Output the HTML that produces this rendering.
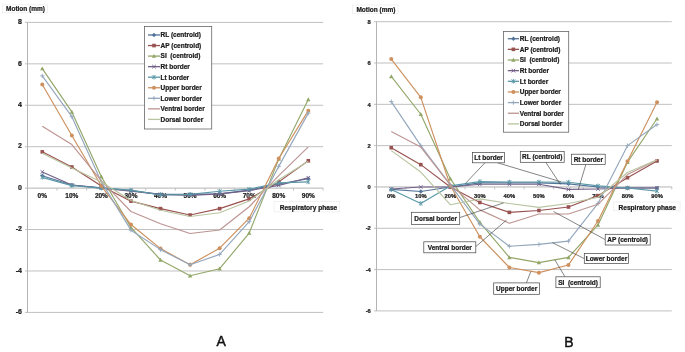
<!DOCTYPE html>
<html><head><meta charset="utf-8"><title>Motion charts</title>
<style>html,body{margin:0;padding:0;background:#fff;width:685px;height:352px;overflow:hidden}svg{display:block;will-change:transform;filter:blur(0.3px)}</style>
</head><body>
<svg width="685" height="352" viewBox="0 0 685 352" font-family='"Liberation Sans", sans-serif'>
<rect width="685" height="352" fill="#fff"/>
<rect x="2.5" y="4.8" width="45" height="8" fill="#fff" stroke="#ececec" stroke-width="0.7"/>
<text x="6" y="11.3" font-size="6.5" font-weight="bold" text-anchor="start" fill="#1a1a1a" stroke="#1a1a1a" stroke-width="0.22">Motion (mm)</text>
<line x1="25" y1="22.4" x2="323.1" y2="22.4" stroke="#c0c0c0" stroke-width="1"/>
<line x1="25" y1="63.83" x2="323.1" y2="63.83" stroke="#c0c0c0" stroke-width="1"/>
<line x1="25" y1="105.26" x2="323.1" y2="105.26" stroke="#c0c0c0" stroke-width="1"/>
<line x1="25" y1="146.69" x2="323.1" y2="146.69" stroke="#c0c0c0" stroke-width="1"/>
<line x1="25" y1="229.54" x2="323.1" y2="229.54" stroke="#c0c0c0" stroke-width="1"/>
<line x1="25" y1="270.97" x2="323.1" y2="270.97" stroke="#c0c0c0" stroke-width="1"/>
<line x1="25" y1="312.4" x2="323.1" y2="312.4" stroke="#c0c0c0" stroke-width="1"/>
<line x1="27.5" y1="22.4" x2="27.5" y2="312.4" stroke="#b4b4b4" stroke-width="1"/>
<line x1="25" y1="188.11" x2="323.1" y2="188.11" stroke="#b4b4b4" stroke-width="1"/>
<line x1="27.5" y1="188.11" x2="27.5" y2="190.61" stroke="#b4b4b4" stroke-width="0.8"/>
<line x1="57.06" y1="188.11" x2="57.06" y2="190.61" stroke="#b4b4b4" stroke-width="0.8"/>
<line x1="86.62" y1="188.11" x2="86.62" y2="190.61" stroke="#b4b4b4" stroke-width="0.8"/>
<line x1="116.18" y1="188.11" x2="116.18" y2="190.61" stroke="#b4b4b4" stroke-width="0.8"/>
<line x1="145.74" y1="188.11" x2="145.74" y2="190.61" stroke="#b4b4b4" stroke-width="0.8"/>
<line x1="175.3" y1="188.11" x2="175.3" y2="190.61" stroke="#b4b4b4" stroke-width="0.8"/>
<line x1="204.86" y1="188.11" x2="204.86" y2="190.61" stroke="#b4b4b4" stroke-width="0.8"/>
<line x1="234.42" y1="188.11" x2="234.42" y2="190.61" stroke="#b4b4b4" stroke-width="0.8"/>
<line x1="263.98" y1="188.11" x2="263.98" y2="190.61" stroke="#b4b4b4" stroke-width="0.8"/>
<line x1="293.54" y1="188.11" x2="293.54" y2="190.61" stroke="#b4b4b4" stroke-width="0.8"/>
<line x1="323.1" y1="188.11" x2="323.1" y2="190.61" stroke="#b4b4b4" stroke-width="0.8"/>
<text x="22" y="24.1" font-size="7" font-weight="bold" text-anchor="end" fill="#1a1a1a" stroke="#1a1a1a" stroke-width="0.22">8</text>
<text x="22" y="65.53" font-size="7" font-weight="bold" text-anchor="end" fill="#1a1a1a" stroke="#1a1a1a" stroke-width="0.22">6</text>
<text x="22" y="106.96" font-size="7" font-weight="bold" text-anchor="end" fill="#1a1a1a" stroke="#1a1a1a" stroke-width="0.22">4</text>
<text x="22" y="148.39" font-size="7" font-weight="bold" text-anchor="end" fill="#1a1a1a" stroke="#1a1a1a" stroke-width="0.22">2</text>
<text x="22" y="189.81" font-size="7" font-weight="bold" text-anchor="end" fill="#1a1a1a" stroke="#1a1a1a" stroke-width="0.22">0</text>
<text x="22" y="231.24" font-size="7" font-weight="bold" text-anchor="end" fill="#1a1a1a" stroke="#1a1a1a" stroke-width="0.22">-2</text>
<text x="22" y="272.67" font-size="7" font-weight="bold" text-anchor="end" fill="#1a1a1a" stroke="#1a1a1a" stroke-width="0.22">-4</text>
<text x="22" y="314.1" font-size="7" font-weight="bold" text-anchor="end" fill="#1a1a1a" stroke="#1a1a1a" stroke-width="0.22">-6</text>
<text x="42.28" y="198.11" font-size="6.5" font-weight="bold" text-anchor="middle" fill="#1a1a1a" stroke="#1a1a1a" stroke-width="0.22">0%</text>
<text x="71.84" y="198.11" font-size="6.5" font-weight="bold" text-anchor="middle" fill="#1a1a1a" stroke="#1a1a1a" stroke-width="0.22">10%</text>
<text x="101.4" y="198.11" font-size="6.5" font-weight="bold" text-anchor="middle" fill="#1a1a1a" stroke="#1a1a1a" stroke-width="0.22">20%</text>
<text x="130.96" y="198.11" font-size="6.5" font-weight="bold" text-anchor="middle" fill="#1a1a1a" stroke="#1a1a1a" stroke-width="0.22">30%</text>
<text x="160.52" y="198.11" font-size="6.5" font-weight="bold" text-anchor="middle" fill="#1a1a1a" stroke="#1a1a1a" stroke-width="0.22">40%</text>
<text x="190.08" y="198.11" font-size="6.5" font-weight="bold" text-anchor="middle" fill="#1a1a1a" stroke="#1a1a1a" stroke-width="0.22">50%</text>
<text x="219.64" y="198.11" font-size="6.5" font-weight="bold" text-anchor="middle" fill="#1a1a1a" stroke="#1a1a1a" stroke-width="0.22">60%</text>
<text x="249.2" y="198.11" font-size="6.5" font-weight="bold" text-anchor="middle" fill="#1a1a1a" stroke="#1a1a1a" stroke-width="0.22">70%</text>
<text x="278.76" y="198.11" font-size="6.5" font-weight="bold" text-anchor="middle" fill="#1a1a1a" stroke="#1a1a1a" stroke-width="0.22">80%</text>
<text x="308.32" y="198.11" font-size="6.5" font-weight="bold" text-anchor="middle" fill="#1a1a1a" stroke="#1a1a1a" stroke-width="0.22">90%</text>
<rect x="274.1" y="201.6" width="65.4" height="10.3" fill="#fff" stroke="#ececec" stroke-width="0.7"/>
<text x="279.7" y="210.1" font-size="6.6" font-weight="bold" text-anchor="start" fill="#1a1a1a" stroke="#1a1a1a" stroke-width="0.22">Respiratory phase</text>
<polyline points="42.28,175.69 71.84,185.01 101.4,187.7 130.96,190.6 160.52,194.33 190.08,194.33 219.64,193.91 249.2,190.19 278.76,183.97 308.32,178.79" fill="none" stroke="#547499" stroke-width="1.15" stroke-linejoin="round"/>
<path d="M42.28 173.49L44.48 175.69L42.28 177.89L40.08 175.69Z" fill="#547499"/>
<path d="M71.84 182.81L74.04 185.01L71.84 187.21L69.64 185.01Z" fill="#547499"/>
<path d="M101.4 185.5L103.6 187.7L101.4 189.9L99.2 187.7Z" fill="#547499"/>
<path d="M130.96 188.4L133.16 190.6L130.96 192.8L128.76 190.6Z" fill="#547499"/>
<path d="M160.52 192.13L162.72 194.33L160.52 196.53L158.32 194.33Z" fill="#547499"/>
<path d="M190.08 192.13L192.28 194.33L190.08 196.53L187.88 194.33Z" fill="#547499"/>
<path d="M219.64 191.71L221.84 193.91L219.64 196.11L217.44 193.91Z" fill="#547499"/>
<path d="M249.2 187.99L251.4 190.19L249.2 192.39L247 190.19Z" fill="#547499"/>
<path d="M278.76 181.77L280.96 183.97L278.76 186.17L276.56 183.97Z" fill="#547499"/>
<path d="M308.32 176.59L310.52 178.79L308.32 180.99L306.12 178.79Z" fill="#547499"/>
<polyline points="42.28,151.86 71.84,166.99 101.4,186.04 130.96,201.16 160.52,208.62 190.08,215.04 219.64,208.62 249.2,198.89 278.76,181.9 308.32,160.77" fill="none" stroke="#985250" stroke-width="1.15" stroke-linejoin="round"/>
<rect x="40.48" y="150.06" width="3.6" height="3.6" fill="#985250"/>
<rect x="70.04" y="165.19" width="3.6" height="3.6" fill="#985250"/>
<rect x="99.6" y="184.24" width="3.6" height="3.6" fill="#985250"/>
<rect x="129.16" y="199.36" width="3.6" height="3.6" fill="#985250"/>
<rect x="158.72" y="206.82" width="3.6" height="3.6" fill="#985250"/>
<rect x="188.28" y="213.24" width="3.6" height="3.6" fill="#985250"/>
<rect x="217.84" y="206.82" width="3.6" height="3.6" fill="#985250"/>
<rect x="247.4" y="197.09" width="3.6" height="3.6" fill="#985250"/>
<rect x="276.96" y="180.1" width="3.6" height="3.6" fill="#985250"/>
<rect x="306.52" y="158.97" width="3.6" height="3.6" fill="#985250"/>
<polyline points="42.28,68.59 71.84,111.89 101.4,176.72 130.96,227.47 160.52,259.99 190.08,275.74 219.64,268.69 249.2,233.06 278.76,159.11 308.32,99.46" fill="none" stroke="#93a769" stroke-width="1.15" stroke-linejoin="round"/>
<path d="M42.28 66.39L44.48 70.35L40.08 70.35Z" fill="#93a769"/>
<path d="M71.84 109.69L74.04 113.65L69.64 113.65Z" fill="#93a769"/>
<path d="M101.4 174.52L103.6 178.48L99.2 178.48Z" fill="#93a769"/>
<path d="M130.96 225.27L133.16 229.23L128.76 229.23Z" fill="#93a769"/>
<path d="M160.52 257.79L162.72 261.75L158.32 261.75Z" fill="#93a769"/>
<path d="M190.08 273.54L192.28 277.5L187.88 277.5Z" fill="#93a769"/>
<path d="M219.64 266.49L221.84 270.45L217.44 270.45Z" fill="#93a769"/>
<path d="M249.2 230.86L251.4 234.82L247 234.82Z" fill="#93a769"/>
<path d="M278.76 156.91L280.96 160.87L276.56 160.87Z" fill="#93a769"/>
<path d="M308.32 97.26L310.52 101.22L306.12 101.22Z" fill="#93a769"/>
<polyline points="42.28,171.96 71.84,185.01 101.4,188.11 130.96,191.22 160.52,194.33 190.08,195.36 219.64,193.91 249.2,190.6 278.76,185.42 308.32,177.76" fill="none" stroke="#715f87" stroke-width="1.15" stroke-linejoin="round"/>
<path d="M40.48 170.16L44.08 173.76M44.08 170.16L40.48 173.76" stroke="#715f87" stroke-width="0.9" fill="none"/>
<path d="M70.04 183.21L73.64 186.81M73.64 183.21L70.04 186.81" stroke="#715f87" stroke-width="0.9" fill="none"/>
<path d="M99.6 186.31L103.2 189.91M103.2 186.31L99.6 189.91" stroke="#715f87" stroke-width="0.9" fill="none"/>
<path d="M129.16 189.42L132.76 193.02M132.76 189.42L129.16 193.02" stroke="#715f87" stroke-width="0.9" fill="none"/>
<path d="M158.72 192.53L162.32 196.13M162.32 192.53L158.72 196.13" stroke="#715f87" stroke-width="0.9" fill="none"/>
<path d="M188.28 193.56L191.88 197.16M191.88 193.56L188.28 197.16" stroke="#715f87" stroke-width="0.9" fill="none"/>
<path d="M217.84 192.11L221.44 195.71M221.44 192.11L217.84 195.71" stroke="#715f87" stroke-width="0.9" fill="none"/>
<path d="M247.4 188.8L251 192.4M251 188.8L247.4 192.4" stroke="#715f87" stroke-width="0.9" fill="none"/>
<path d="M276.96 183.62L280.56 187.22M280.56 183.62L276.96 187.22" stroke="#715f87" stroke-width="0.9" fill="none"/>
<path d="M306.52 175.96L310.12 179.56M310.12 175.96L306.52 179.56" stroke="#715f87" stroke-width="0.9" fill="none"/>
<polyline points="42.28,177.34 71.84,185.63 101.4,188.11 130.96,190.19 160.52,194.95 190.08,194.33 219.64,191.22 249.2,189.15 278.76,182.94 308.32,181.9" fill="none" stroke="#5a97a7" stroke-width="1.15" stroke-linejoin="round"/>
<path d="M40.38 175.44L44.18 179.24M44.18 175.44L40.38 179.24M42.28 175.04L42.28 179.64" stroke="#5a97a7" stroke-width="0.9" fill="none"/>
<path d="M69.94 183.73L73.74 187.53M73.74 183.73L69.94 187.53M71.84 183.33L71.84 187.93" stroke="#5a97a7" stroke-width="0.9" fill="none"/>
<path d="M99.5 186.21L103.3 190.01M103.3 186.21L99.5 190.01M101.4 185.81L101.4 190.41" stroke="#5a97a7" stroke-width="0.9" fill="none"/>
<path d="M129.06 188.29L132.86 192.09M132.86 188.29L129.06 192.09M130.96 187.89L130.96 192.49" stroke="#5a97a7" stroke-width="0.9" fill="none"/>
<path d="M158.62 193.05L162.42 196.85M162.42 193.05L158.62 196.85M160.52 192.65L160.52 197.25" stroke="#5a97a7" stroke-width="0.9" fill="none"/>
<path d="M188.18 192.43L191.98 196.23M191.98 192.43L188.18 196.23M190.08 192.03L190.08 196.63" stroke="#5a97a7" stroke-width="0.9" fill="none"/>
<path d="M217.74 189.32L221.54 193.12M221.54 189.32L217.74 193.12M219.64 188.92L219.64 193.52" stroke="#5a97a7" stroke-width="0.9" fill="none"/>
<path d="M247.3 187.25L251.1 191.05M251.1 187.25L247.3 191.05M249.2 186.85L249.2 191.45" stroke="#5a97a7" stroke-width="0.9" fill="none"/>
<path d="M276.86 181.04L280.66 184.84M280.66 181.04L276.86 184.84M278.76 180.64L278.76 185.24" stroke="#5a97a7" stroke-width="0.9" fill="none"/>
<path d="M306.42 180L310.22 183.8M310.22 180L306.42 183.8M308.32 179.6L308.32 184.2" stroke="#5a97a7" stroke-width="0.9" fill="none"/>
<polyline points="42.28,84.54 71.84,135.5 101.4,186.04 130.96,224.57 160.52,248.6 190.08,264.76 219.64,248.19 249.2,218.15 278.76,158.49 308.32,110.64" fill="none" stroke="#cd905e" stroke-width="1.15" stroke-linejoin="round"/>
<circle cx="42.28" cy="84.54" r="2" fill="#cd905e"/>
<circle cx="71.84" cy="135.5" r="2" fill="#cd905e"/>
<circle cx="101.4" cy="186.04" r="2" fill="#cd905e"/>
<circle cx="130.96" cy="224.57" r="2" fill="#cd905e"/>
<circle cx="160.52" cy="248.6" r="2" fill="#cd905e"/>
<circle cx="190.08" cy="264.76" r="2" fill="#cd905e"/>
<circle cx="219.64" cy="248.19" r="2" fill="#cd905e"/>
<circle cx="249.2" cy="218.15" r="2" fill="#cd905e"/>
<circle cx="278.76" cy="158.49" r="2" fill="#cd905e"/>
<circle cx="308.32" cy="110.64" r="2" fill="#cd905e"/>
<polyline points="42.28,75.84 71.84,116.65 101.4,181.9 130.96,230.16 160.52,249.64 190.08,264.76 219.64,254.4 249.2,221.67 278.76,166.36 308.32,113.13" fill="none" stroke="#94a7bd" stroke-width="1.15" stroke-linejoin="round"/>
<path d="M40.08 75.84L44.48 75.84M42.28 73.64L42.28 78.04" stroke="#94a7bd" stroke-width="0.9" fill="none"/>
<path d="M69.64 116.65L74.04 116.65M71.84 114.45L71.84 118.85" stroke="#94a7bd" stroke-width="0.9" fill="none"/>
<path d="M99.2 181.9L103.6 181.9M101.4 179.7L101.4 184.1" stroke="#94a7bd" stroke-width="0.9" fill="none"/>
<path d="M128.76 230.16L133.16 230.16M130.96 227.96L130.96 232.36" stroke="#94a7bd" stroke-width="0.9" fill="none"/>
<path d="M158.32 249.64L162.72 249.64M160.52 247.44L160.52 251.84" stroke="#94a7bd" stroke-width="0.9" fill="none"/>
<path d="M187.88 264.76L192.28 264.76M190.08 262.56L190.08 266.96" stroke="#94a7bd" stroke-width="0.9" fill="none"/>
<path d="M217.44 254.4L221.84 254.4M219.64 252.2L219.64 256.6" stroke="#94a7bd" stroke-width="0.9" fill="none"/>
<path d="M247 221.67L251.4 221.67M249.2 219.47L249.2 223.87" stroke="#94a7bd" stroke-width="0.9" fill="none"/>
<path d="M276.56 166.36L280.96 166.36M278.76 164.16L278.76 168.56" stroke="#94a7bd" stroke-width="0.9" fill="none"/>
<path d="M306.12 113.13L310.52 113.13M308.32 110.93L308.32 115.33" stroke="#94a7bd" stroke-width="0.9" fill="none"/>
<polyline points="42.28,126.18 71.84,144.61 101.4,180.86 130.96,211.52 160.52,223.74 190.08,233.48 219.64,229.96 249.2,206.76 278.76,175.69 308.32,146.89" fill="none" stroke="#bc9492" stroke-width="1.15" stroke-linejoin="round"/>
<polyline points="42.28,153.31 71.84,168.02 101.4,181.9 130.96,200.54 160.52,210.28 190.08,216.49 219.64,212.76 249.2,200.96 278.76,179.83 308.32,161.19" fill="none" stroke="#b9c5a1" stroke-width="1.15" stroke-linejoin="round"/>
<rect x="144.5" y="26.5" width="67.2" height="102.5" fill="#fff" stroke="#666" stroke-width="0.8"/>
<line x1="148" y1="35" x2="160" y2="35" stroke="#547499" stroke-width="1.3"/>
<path d="M154 32.8L156.2 35L154 37.2L151.8 35Z" fill="#547499"/>
<text x="160.6" y="37.3" font-size="6.5" font-weight="bold" text-anchor="start" fill="#1a1a1a" stroke="#1a1a1a" stroke-width="0.22">RL (centroid)</text>
<line x1="148" y1="45.55" x2="160" y2="45.55" stroke="#985250" stroke-width="1.3"/>
<rect x="152.2" y="43.75" width="3.6" height="3.6" fill="#985250"/>
<text x="160.6" y="47.85" font-size="6.5" font-weight="bold" text-anchor="start" fill="#1a1a1a" stroke="#1a1a1a" stroke-width="0.22">AP (centroid)</text>
<line x1="148" y1="56.1" x2="160" y2="56.1" stroke="#93a769" stroke-width="1.3"/>
<path d="M154 53.9L156.2 57.86L151.8 57.86Z" fill="#93a769"/>
<text x="160.6" y="58.4" font-size="6.5" font-weight="bold" text-anchor="start" fill="#1a1a1a" stroke="#1a1a1a" stroke-width="0.22">SI  (centroid)</text>
<line x1="148" y1="66.65" x2="160" y2="66.65" stroke="#715f87" stroke-width="1.3"/>
<path d="M152.2 64.85L155.8 68.45M155.8 64.85L152.2 68.45" stroke="#715f87" stroke-width="0.9" fill="none"/>
<text x="160.6" y="68.95" font-size="6.5" font-weight="bold" text-anchor="start" fill="#1a1a1a" stroke="#1a1a1a" stroke-width="0.22">Rt border</text>
<line x1="148" y1="77.2" x2="160" y2="77.2" stroke="#5a97a7" stroke-width="1.3"/>
<path d="M152.1 75.3L155.9 79.1M155.9 75.3L152.1 79.1M154 74.9L154 79.5" stroke="#5a97a7" stroke-width="0.9" fill="none"/>
<text x="160.6" y="79.5" font-size="6.5" font-weight="bold" text-anchor="start" fill="#1a1a1a" stroke="#1a1a1a" stroke-width="0.22">Lt border</text>
<line x1="148" y1="87.75" x2="160" y2="87.75" stroke="#cd905e" stroke-width="1.3"/>
<circle cx="154" cy="87.75" r="2" fill="#cd905e"/>
<text x="160.6" y="90.05" font-size="6.5" font-weight="bold" text-anchor="start" fill="#1a1a1a" stroke="#1a1a1a" stroke-width="0.22">Upper border</text>
<line x1="148" y1="98.3" x2="160" y2="98.3" stroke="#94a7bd" stroke-width="1.3"/>
<path d="M151.8 98.3L156.2 98.3M154 96.1L154 100.5" stroke="#94a7bd" stroke-width="0.9" fill="none"/>
<text x="160.6" y="100.6" font-size="6.5" font-weight="bold" text-anchor="start" fill="#1a1a1a" stroke="#1a1a1a" stroke-width="0.22">Lower border</text>
<line x1="148" y1="108.85" x2="160" y2="108.85" stroke="#bc9492" stroke-width="1.3"/>
<text x="160.6" y="111.15" font-size="6.5" font-weight="bold" text-anchor="start" fill="#1a1a1a" stroke="#1a1a1a" stroke-width="0.22">Ventral border</text>
<line x1="148" y1="119.4" x2="160" y2="119.4" stroke="#b9c5a1" stroke-width="1.3"/>
<text x="160.6" y="121.7" font-size="6.5" font-weight="bold" text-anchor="start" fill="#1a1a1a" stroke="#1a1a1a" stroke-width="0.22">Dorsal border</text>
<text x="216.6" y="346.2" font-size="14" font-weight="normal" text-anchor="start" fill="#111" stroke="#111" stroke-width="0.45">A</text>
<rect x="352.5" y="5" width="45.5" height="8.6" fill="#fff" stroke="#ececec" stroke-width="0.7"/>
<text x="356.4" y="11.8" font-size="6.5" font-weight="bold" text-anchor="start" fill="#1a1a1a" stroke="#1a1a1a" stroke-width="0.22">Motion (mm)</text>
<line x1="374" y1="21.7" x2="671.8" y2="21.7" stroke="#c0c0c0" stroke-width="1"/>
<line x1="374" y1="63.01" x2="671.8" y2="63.01" stroke="#c0c0c0" stroke-width="1"/>
<line x1="374" y1="104.33" x2="671.8" y2="104.33" stroke="#c0c0c0" stroke-width="1"/>
<line x1="374" y1="145.64" x2="671.8" y2="145.64" stroke="#c0c0c0" stroke-width="1"/>
<line x1="374" y1="228.27" x2="671.8" y2="228.27" stroke="#c0c0c0" stroke-width="1"/>
<line x1="374" y1="269.59" x2="671.8" y2="269.59" stroke="#c0c0c0" stroke-width="1"/>
<line x1="374" y1="310.9" x2="671.8" y2="310.9" stroke="#c0c0c0" stroke-width="1"/>
<line x1="376.5" y1="21.7" x2="376.5" y2="310.9" stroke="#b4b4b4" stroke-width="1"/>
<line x1="374" y1="186.96" x2="671.8" y2="186.96" stroke="#b4b4b4" stroke-width="1"/>
<line x1="376.5" y1="186.96" x2="376.5" y2="189.46" stroke="#b4b4b4" stroke-width="0.8"/>
<line x1="406.03" y1="186.96" x2="406.03" y2="189.46" stroke="#b4b4b4" stroke-width="0.8"/>
<line x1="435.56" y1="186.96" x2="435.56" y2="189.46" stroke="#b4b4b4" stroke-width="0.8"/>
<line x1="465.09" y1="186.96" x2="465.09" y2="189.46" stroke="#b4b4b4" stroke-width="0.8"/>
<line x1="494.62" y1="186.96" x2="494.62" y2="189.46" stroke="#b4b4b4" stroke-width="0.8"/>
<line x1="524.15" y1="186.96" x2="524.15" y2="189.46" stroke="#b4b4b4" stroke-width="0.8"/>
<line x1="553.68" y1="186.96" x2="553.68" y2="189.46" stroke="#b4b4b4" stroke-width="0.8"/>
<line x1="583.21" y1="186.96" x2="583.21" y2="189.46" stroke="#b4b4b4" stroke-width="0.8"/>
<line x1="612.74" y1="186.96" x2="612.74" y2="189.46" stroke="#b4b4b4" stroke-width="0.8"/>
<line x1="642.27" y1="186.96" x2="642.27" y2="189.46" stroke="#b4b4b4" stroke-width="0.8"/>
<line x1="671.8" y1="186.96" x2="671.8" y2="189.46" stroke="#b4b4b4" stroke-width="0.8"/>
<text x="370.8" y="23.9" font-size="5.8" font-weight="bold" text-anchor="end" fill="#1a1a1a" stroke="#1a1a1a" stroke-width="0.22">8</text>
<text x="370.8" y="65.21" font-size="5.8" font-weight="bold" text-anchor="end" fill="#1a1a1a" stroke="#1a1a1a" stroke-width="0.22">6</text>
<text x="370.8" y="106.53" font-size="5.8" font-weight="bold" text-anchor="end" fill="#1a1a1a" stroke="#1a1a1a" stroke-width="0.22">4</text>
<text x="370.8" y="147.84" font-size="5.8" font-weight="bold" text-anchor="end" fill="#1a1a1a" stroke="#1a1a1a" stroke-width="0.22">2</text>
<text x="370.8" y="189.16" font-size="5.8" font-weight="bold" text-anchor="end" fill="#1a1a1a" stroke="#1a1a1a" stroke-width="0.22">0</text>
<text x="370.8" y="230.47" font-size="5.8" font-weight="bold" text-anchor="end" fill="#1a1a1a" stroke="#1a1a1a" stroke-width="0.22">-2</text>
<text x="370.8" y="271.79" font-size="5.8" font-weight="bold" text-anchor="end" fill="#1a1a1a" stroke="#1a1a1a" stroke-width="0.22">-4</text>
<text x="370.8" y="313.1" font-size="5.8" font-weight="bold" text-anchor="end" fill="#1a1a1a" stroke="#1a1a1a" stroke-width="0.22">-6</text>
<text x="391.26" y="197.86" font-size="5.8" font-weight="bold" text-anchor="middle" fill="#1a1a1a" stroke="#1a1a1a" stroke-width="0.22">0%</text>
<text x="420.79" y="197.86" font-size="5.8" font-weight="bold" text-anchor="middle" fill="#1a1a1a" stroke="#1a1a1a" stroke-width="0.22">10%</text>
<text x="450.32" y="197.86" font-size="5.8" font-weight="bold" text-anchor="middle" fill="#1a1a1a" stroke="#1a1a1a" stroke-width="0.22">20%</text>
<text x="479.85" y="197.86" font-size="5.8" font-weight="bold" text-anchor="middle" fill="#1a1a1a" stroke="#1a1a1a" stroke-width="0.22">30%</text>
<text x="509.38" y="197.86" font-size="5.8" font-weight="bold" text-anchor="middle" fill="#1a1a1a" stroke="#1a1a1a" stroke-width="0.22">40%</text>
<text x="538.91" y="197.86" font-size="5.8" font-weight="bold" text-anchor="middle" fill="#1a1a1a" stroke="#1a1a1a" stroke-width="0.22">50%</text>
<text x="568.44" y="197.86" font-size="5.8" font-weight="bold" text-anchor="middle" fill="#1a1a1a" stroke="#1a1a1a" stroke-width="0.22">60%</text>
<text x="597.97" y="197.86" font-size="5.8" font-weight="bold" text-anchor="middle" fill="#1a1a1a" stroke="#1a1a1a" stroke-width="0.22">70%</text>
<text x="627.5" y="197.86" font-size="5.8" font-weight="bold" text-anchor="middle" fill="#1a1a1a" stroke="#1a1a1a" stroke-width="0.22">80%</text>
<text x="657.03" y="197.86" font-size="5.8" font-weight="bold" text-anchor="middle" fill="#1a1a1a" stroke="#1a1a1a" stroke-width="0.22">90%</text>
<rect x="613.3" y="202" width="66.8" height="8.8" fill="#fff" stroke="#ececec" stroke-width="0.7"/>
<text x="618.5" y="209.7" font-size="6.6" font-weight="bold" text-anchor="start" fill="#1a1a1a" stroke="#1a1a1a" stroke-width="0.22">Respiratory phase</text>
<polyline points="391.26,189.44 420.79,191.5 450.32,186.96 479.85,182.83 509.38,182.83 538.91,182.83 568.44,183.86 597.97,186.96 627.5,187.99 657.03,187.99" fill="none" stroke="#547499" stroke-width="1.15" stroke-linejoin="round"/>
<path d="M391.26 187.24L393.46 189.44L391.26 191.64L389.06 189.44Z" fill="#547499"/>
<path d="M420.79 189.3L422.99 191.5L420.79 193.7L418.59 191.5Z" fill="#547499"/>
<path d="M450.32 184.76L452.52 186.96L450.32 189.16L448.12 186.96Z" fill="#547499"/>
<path d="M479.85 180.63L482.05 182.83L479.85 185.03L477.65 182.83Z" fill="#547499"/>
<path d="M509.38 180.63L511.58 182.83L509.38 185.03L507.19 182.83Z" fill="#547499"/>
<path d="M538.91 180.63L541.12 182.83L538.91 185.03L536.71 182.83Z" fill="#547499"/>
<path d="M568.44 181.66L570.64 183.86L568.44 186.06L566.24 183.86Z" fill="#547499"/>
<path d="M597.97 184.76L600.17 186.96L597.97 189.16L595.77 186.96Z" fill="#547499"/>
<path d="M627.5 185.79L629.7 187.99L627.5 190.19L625.3 187.99Z" fill="#547499"/>
<path d="M657.03 185.79L659.24 187.99L657.03 190.19L654.83 187.99Z" fill="#547499"/>
<polyline points="391.26,147.71 420.79,164.65 450.32,186.96 479.85,202.45 509.38,212.37 538.91,210.51 568.44,206.99 597.97,195.63 627.5,177.66 657.03,160.93" fill="none" stroke="#985250" stroke-width="1.15" stroke-linejoin="round"/>
<rect x="389.46" y="145.91" width="3.6" height="3.6" fill="#985250"/>
<rect x="418.99" y="162.85" width="3.6" height="3.6" fill="#985250"/>
<rect x="448.52" y="185.16" width="3.6" height="3.6" fill="#985250"/>
<rect x="478.05" y="200.65" width="3.6" height="3.6" fill="#985250"/>
<rect x="507.58" y="210.57" width="3.6" height="3.6" fill="#985250"/>
<rect x="537.12" y="208.71" width="3.6" height="3.6" fill="#985250"/>
<rect x="566.64" y="205.19" width="3.6" height="3.6" fill="#985250"/>
<rect x="596.17" y="193.83" width="3.6" height="3.6" fill="#985250"/>
<rect x="625.7" y="175.86" width="3.6" height="3.6" fill="#985250"/>
<rect x="655.24" y="159.13" width="3.6" height="3.6" fill="#985250"/>
<polyline points="391.26,76.44 420.79,114.24 450.32,178.69 479.85,222.28 509.38,257.4 538.91,262.56 568.44,257.4 597.97,224.97 627.5,162.17 657.03,118.79" fill="none" stroke="#93a769" stroke-width="1.15" stroke-linejoin="round"/>
<path d="M391.26 74.24L393.46 78.2L389.06 78.2Z" fill="#93a769"/>
<path d="M420.79 112.04L422.99 116L418.59 116Z" fill="#93a769"/>
<path d="M450.32 176.49L452.52 180.45L448.12 180.45Z" fill="#93a769"/>
<path d="M479.85 220.08L482.05 224.04L477.65 224.04Z" fill="#93a769"/>
<path d="M509.38 255.2L511.58 259.16L507.19 259.16Z" fill="#93a769"/>
<path d="M538.91 260.36L541.12 264.32L536.71 264.32Z" fill="#93a769"/>
<path d="M568.44 255.2L570.64 259.16L566.24 259.16Z" fill="#93a769"/>
<path d="M597.97 222.77L600.17 226.73L595.77 226.73Z" fill="#93a769"/>
<path d="M627.5 159.97L629.7 163.93L625.3 163.93Z" fill="#93a769"/>
<path d="M657.03 116.59L659.24 120.55L654.83 120.55Z" fill="#93a769"/>
<polyline points="391.26,189.02 420.79,186.96 450.32,186.96 479.85,184.27 509.38,184.27 538.91,184.27 568.44,189.44 597.97,189.02 627.5,187.99 657.03,187.99" fill="none" stroke="#715f87" stroke-width="1.15" stroke-linejoin="round"/>
<path d="M389.46 187.22L393.06 190.82M393.06 187.22L389.46 190.82" stroke="#715f87" stroke-width="0.9" fill="none"/>
<path d="M418.99 185.16L422.59 188.76M422.59 185.16L418.99 188.76" stroke="#715f87" stroke-width="0.9" fill="none"/>
<path d="M448.52 185.16L452.12 188.76M452.12 185.16L448.52 188.76" stroke="#715f87" stroke-width="0.9" fill="none"/>
<path d="M478.05 182.47L481.65 186.07M481.65 182.47L478.05 186.07" stroke="#715f87" stroke-width="0.9" fill="none"/>
<path d="M507.58 182.47L511.19 186.07M511.19 182.47L507.58 186.07" stroke="#715f87" stroke-width="0.9" fill="none"/>
<path d="M537.12 182.47L540.71 186.07M540.71 182.47L537.12 186.07" stroke="#715f87" stroke-width="0.9" fill="none"/>
<path d="M566.64 187.64L570.24 191.24M570.24 187.64L566.64 191.24" stroke="#715f87" stroke-width="0.9" fill="none"/>
<path d="M596.17 187.22L599.77 190.82M599.77 187.22L596.17 190.82" stroke="#715f87" stroke-width="0.9" fill="none"/>
<path d="M625.7 186.19L629.3 189.79M629.3 186.19L625.7 189.79" stroke="#715f87" stroke-width="0.9" fill="none"/>
<path d="M655.24 186.19L658.83 189.79M658.83 186.19L655.24 189.79" stroke="#715f87" stroke-width="0.9" fill="none"/>
<polyline points="391.26,189.44 420.79,203.48 450.32,185.92 479.85,181.59 509.38,182 538.91,182 568.44,182.21 597.97,185.92 627.5,187.99 657.03,191.09" fill="none" stroke="#5a97a7" stroke-width="1.15" stroke-linejoin="round"/>
<path d="M389.37 187.54L393.16 191.34M393.16 187.54L389.37 191.34M391.26 187.14L391.26 191.74" stroke="#5a97a7" stroke-width="0.9" fill="none"/>
<path d="M418.89 201.58L422.69 205.38M422.69 201.58L418.89 205.38M420.79 201.18L420.79 205.78" stroke="#5a97a7" stroke-width="0.9" fill="none"/>
<path d="M448.43 184.02L452.22 187.82M452.22 184.02L448.43 187.82M450.32 183.62L450.32 188.22" stroke="#5a97a7" stroke-width="0.9" fill="none"/>
<path d="M477.95 179.69L481.75 183.49M481.75 179.69L477.95 183.49M479.85 179.29L479.85 183.89" stroke="#5a97a7" stroke-width="0.9" fill="none"/>
<path d="M507.49 180.1L511.28 183.9M511.28 180.1L507.49 183.9M509.38 179.7L509.38 184.3" stroke="#5a97a7" stroke-width="0.9" fill="none"/>
<path d="M537.01 180.1L540.81 183.9M540.81 180.1L537.01 183.9M538.91 179.7L538.91 184.3" stroke="#5a97a7" stroke-width="0.9" fill="none"/>
<path d="M566.54 180.31L570.34 184.11M570.34 180.31L566.54 184.11M568.44 179.91L568.44 184.51" stroke="#5a97a7" stroke-width="0.9" fill="none"/>
<path d="M596.07 184.02L599.87 187.82M599.87 184.02L596.07 187.82M597.97 183.62L597.97 188.22" stroke="#5a97a7" stroke-width="0.9" fill="none"/>
<path d="M625.6 186.09L629.4 189.89M629.4 186.09L625.6 189.89M627.5 185.69L627.5 190.29" stroke="#5a97a7" stroke-width="0.9" fill="none"/>
<path d="M655.13 189.19L658.93 192.99M658.93 189.19L655.13 192.99M657.03 188.79L657.03 193.39" stroke="#5a97a7" stroke-width="0.9" fill="none"/>
<polyline points="391.26,59.09 420.79,97.31 450.32,185.72 479.85,236.74 509.38,267.52 538.91,272.68 568.44,265.04 597.97,221.04 627.5,161.34 657.03,102.26" fill="none" stroke="#cd905e" stroke-width="1.15" stroke-linejoin="round"/>
<circle cx="391.26" cy="59.09" r="2" fill="#cd905e"/>
<circle cx="420.79" cy="97.31" r="2" fill="#cd905e"/>
<circle cx="450.32" cy="185.72" r="2" fill="#cd905e"/>
<circle cx="479.85" cy="236.74" r="2" fill="#cd905e"/>
<circle cx="509.38" cy="267.52" r="2" fill="#cd905e"/>
<circle cx="538.91" cy="272.68" r="2" fill="#cd905e"/>
<circle cx="568.44" cy="265.04" r="2" fill="#cd905e"/>
<circle cx="597.97" cy="221.04" r="2" fill="#cd905e"/>
<circle cx="627.5" cy="161.34" r="2" fill="#cd905e"/>
<circle cx="657.03" cy="102.26" r="2" fill="#cd905e"/>
<polyline points="391.26,101.64 420.79,145.64 450.32,184.89 479.85,224.14 509.38,246.24 538.91,244.38 568.44,241.08 597.97,203.48 627.5,145.64 657.03,124.57" fill="none" stroke="#94a7bd" stroke-width="1.15" stroke-linejoin="round"/>
<path d="M389.06 101.64L393.46 101.64M391.26 99.44L391.26 103.84" stroke="#94a7bd" stroke-width="0.9" fill="none"/>
<path d="M418.59 145.64L422.99 145.64M420.79 143.44L420.79 147.84" stroke="#94a7bd" stroke-width="0.9" fill="none"/>
<path d="M448.12 184.89L452.52 184.89M450.32 182.69L450.32 187.09" stroke="#94a7bd" stroke-width="0.9" fill="none"/>
<path d="M477.65 224.14L482.05 224.14M479.85 221.94L479.85 226.34" stroke="#94a7bd" stroke-width="0.9" fill="none"/>
<path d="M507.19 246.24L511.58 246.24M509.38 244.04L509.38 248.44" stroke="#94a7bd" stroke-width="0.9" fill="none"/>
<path d="M536.71 244.38L541.12 244.38M538.91 242.18L538.91 246.58" stroke="#94a7bd" stroke-width="0.9" fill="none"/>
<path d="M566.24 241.08L570.64 241.08M568.44 238.88L568.44 243.28" stroke="#94a7bd" stroke-width="0.9" fill="none"/>
<path d="M595.77 203.48L600.17 203.48M597.97 201.28L597.97 205.68" stroke="#94a7bd" stroke-width="0.9" fill="none"/>
<path d="M625.3 145.64L629.7 145.64M627.5 143.44L627.5 147.84" stroke="#94a7bd" stroke-width="0.9" fill="none"/>
<path d="M654.83 124.57L659.24 124.57M657.03 122.37L657.03 126.77" stroke="#94a7bd" stroke-width="0.9" fill="none"/>
<polyline points="391.26,131.6 420.79,147.09 450.32,184.89 479.85,209.89 509.38,223.31 538.91,214.02 568.44,214.02 597.97,204.31 627.5,174.56 657.03,160.1" fill="none" stroke="#bc9492" stroke-width="1.15" stroke-linejoin="round"/>
<polyline points="391.26,150.6 420.79,172.08 450.32,204.72 479.85,198.94 509.38,203.48 538.91,207.41 568.44,203.48 597.97,197.29 627.5,172.5 657.03,159.69" fill="none" stroke="#b9c5a1" stroke-width="1.15" stroke-linejoin="round"/>
<rect x="503.5" y="31.5" width="65.2" height="100.7" fill="#fff" stroke="#666" stroke-width="0.8"/>
<line x1="507.8" y1="38.7" x2="519" y2="38.7" stroke="#547499" stroke-width="1.3"/>
<path d="M513.4 36.5L515.6 38.7L513.4 40.9L511.2 38.7Z" fill="#547499"/>
<text x="519.7" y="41" font-size="6.5" font-weight="bold" text-anchor="start" fill="#1a1a1a" stroke="#1a1a1a" stroke-width="0.22">RL (centroid)</text>
<line x1="507.8" y1="49.35" x2="519" y2="49.35" stroke="#985250" stroke-width="1.3"/>
<rect x="511.6" y="47.55" width="3.6" height="3.6" fill="#985250"/>
<text x="519.7" y="51.65" font-size="6.5" font-weight="bold" text-anchor="start" fill="#1a1a1a" stroke="#1a1a1a" stroke-width="0.22">AP (centroid)</text>
<line x1="507.8" y1="60" x2="519" y2="60" stroke="#93a769" stroke-width="1.3"/>
<path d="M513.4 57.8L515.6 61.76L511.2 61.76Z" fill="#93a769"/>
<text x="519.7" y="62.3" font-size="6.5" font-weight="bold" text-anchor="start" fill="#1a1a1a" stroke="#1a1a1a" stroke-width="0.22">SI  (centroid)</text>
<line x1="507.8" y1="70.65" x2="519" y2="70.65" stroke="#715f87" stroke-width="1.3"/>
<path d="M511.6 68.85L515.2 72.45M515.2 68.85L511.6 72.45" stroke="#715f87" stroke-width="0.9" fill="none"/>
<text x="519.7" y="72.95" font-size="6.5" font-weight="bold" text-anchor="start" fill="#1a1a1a" stroke="#1a1a1a" stroke-width="0.22">Rt border</text>
<line x1="507.8" y1="81.3" x2="519" y2="81.3" stroke="#5a97a7" stroke-width="1.3"/>
<path d="M511.5 79.4L515.3 83.2M515.3 79.4L511.5 83.2M513.4 79L513.4 83.6" stroke="#5a97a7" stroke-width="0.9" fill="none"/>
<text x="519.7" y="83.6" font-size="6.5" font-weight="bold" text-anchor="start" fill="#1a1a1a" stroke="#1a1a1a" stroke-width="0.22">Lt border</text>
<line x1="507.8" y1="91.95" x2="519" y2="91.95" stroke="#cd905e" stroke-width="1.3"/>
<circle cx="513.4" cy="91.95" r="2" fill="#cd905e"/>
<text x="519.7" y="94.25" font-size="6.5" font-weight="bold" text-anchor="start" fill="#1a1a1a" stroke="#1a1a1a" stroke-width="0.22">Upper border</text>
<line x1="507.8" y1="102.6" x2="519" y2="102.6" stroke="#94a7bd" stroke-width="1.3"/>
<path d="M511.2 102.6L515.6 102.6M513.4 100.4L513.4 104.8" stroke="#94a7bd" stroke-width="0.9" fill="none"/>
<text x="519.7" y="104.9" font-size="6.5" font-weight="bold" text-anchor="start" fill="#1a1a1a" stroke="#1a1a1a" stroke-width="0.22">Lower border</text>
<line x1="507.8" y1="113.25" x2="519" y2="113.25" stroke="#bc9492" stroke-width="1.3"/>
<text x="519.7" y="115.55" font-size="6.5" font-weight="bold" text-anchor="start" fill="#1a1a1a" stroke="#1a1a1a" stroke-width="0.22">Ventral border</text>
<line x1="507.8" y1="123.9" x2="519" y2="123.9" stroke="#b9c5a1" stroke-width="1.3"/>
<text x="519.7" y="126.2" font-size="6.5" font-weight="bold" text-anchor="start" fill="#1a1a1a" stroke="#1a1a1a" stroke-width="0.22">Dorsal border</text>
<text x="564.3" y="347" font-size="14" font-weight="normal" text-anchor="start" fill="#111" stroke="#111" stroke-width="0.45">B</text>
<line x1="484.9" y1="162.8" x2="465.5" y2="183.4" stroke="#333" stroke-width="0.6"/>
<line x1="497.6" y1="162.8" x2="561" y2="181.8" stroke="#333" stroke-width="0.6"/>
<line x1="545.8" y1="162.3" x2="560.3" y2="184.4" stroke="#333" stroke-width="0.6"/>
<line x1="585.9" y1="164.4" x2="578.3" y2="189.5" stroke="#333" stroke-width="0.6"/>
<line x1="459.7" y1="217.6" x2="503.6" y2="202.9" stroke="#333" stroke-width="0.6"/>
<line x1="475.8" y1="246.6" x2="506.6" y2="220" stroke="#333" stroke-width="0.6"/>
<line x1="526.4" y1="282.9" x2="530.8" y2="271.5" stroke="#333" stroke-width="0.6"/>
<line x1="565" y1="276.8" x2="554.8" y2="259.8" stroke="#333" stroke-width="0.6"/>
<line x1="584.3" y1="258.6" x2="552.5" y2="242.7" stroke="#333" stroke-width="0.6"/>
<line x1="605.2" y1="239.6" x2="553.5" y2="211.5" stroke="#333" stroke-width="0.6"/>
<rect x="472.5" y="152.6" width="32.1" height="10.2" fill="#fff" stroke="#444" stroke-width="0.7"/>
<text x="488.55" y="160" font-size="6.5" font-weight="bold" text-anchor="middle" fill="#1a1a1a" stroke="#1a1a1a" stroke-width="0.22">Lt border</text>
<rect x="520.3" y="151.5" width="43.9" height="10.8" fill="#fff" stroke="#444" stroke-width="0.7"/>
<text x="542.25" y="159.2" font-size="6.5" font-weight="bold" text-anchor="middle" fill="#1a1a1a" stroke="#1a1a1a" stroke-width="0.22">RL (centroid)</text>
<rect x="571.4" y="154.2" width="33.8" height="10.2" fill="#fff" stroke="#444" stroke-width="0.7"/>
<text x="588.3" y="161.6" font-size="6.5" font-weight="bold" text-anchor="middle" fill="#1a1a1a" stroke="#1a1a1a" stroke-width="0.22">Rt border</text>
<rect x="411.6" y="212.3" width="48.1" height="12.3" fill="#fff" stroke="#444" stroke-width="0.7"/>
<text x="435.65" y="220.75" font-size="6.5" font-weight="bold" text-anchor="middle" fill="#1a1a1a" stroke="#1a1a1a" stroke-width="0.22">Dorsal border</text>
<rect x="423.8" y="241.8" width="52" height="11" fill="#fff" stroke="#444" stroke-width="0.7"/>
<text x="449.8" y="249.6" font-size="6.5" font-weight="bold" text-anchor="middle" fill="#1a1a1a" stroke="#1a1a1a" stroke-width="0.22">Ventral border</text>
<rect x="493.7" y="282.9" width="45.8" height="11.4" fill="#fff" stroke="#444" stroke-width="0.7"/>
<text x="516.6" y="290.9" font-size="6.5" font-weight="bold" text-anchor="middle" fill="#1a1a1a" stroke="#1a1a1a" stroke-width="0.22">Upper border</text>
<rect x="555.9" y="276.8" width="44.3" height="10.9" fill="#fff" stroke="#444" stroke-width="0.7"/>
<text x="578.05" y="284.55" font-size="6.5" font-weight="bold" text-anchor="middle" fill="#1a1a1a" stroke="#1a1a1a" stroke-width="0.22">SI  (centroid)</text>
<rect x="584.3" y="253.6" width="44.3" height="10" fill="#fff" stroke="#444" stroke-width="0.7"/>
<text x="606.45" y="260.9" font-size="6.5" font-weight="bold" text-anchor="middle" fill="#1a1a1a" stroke="#1a1a1a" stroke-width="0.22">Lower border</text>
<rect x="605.2" y="234.3" width="45" height="10.7" fill="#fff" stroke="#444" stroke-width="0.7"/>
<text x="627.7" y="241.95" font-size="6.5" font-weight="bold" text-anchor="middle" fill="#1a1a1a" stroke="#1a1a1a" stroke-width="0.22">AP (centroid)</text>
</svg>
</body></html>
